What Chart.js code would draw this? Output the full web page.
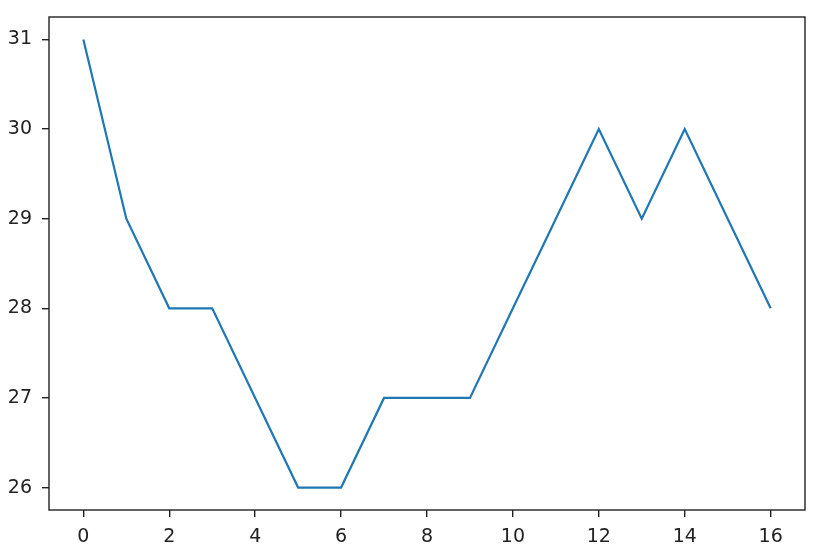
<!DOCTYPE html>
<html>
<head>
<meta charset="utf-8">
<script src="https://cdn.jsdelivr.net/npm/chart.js@4/dist/chart.umd.min.js"></script>
<style>
html, body { margin: 0; padding: 0; background: #fff; }
#wrap { width: 821px; height: 556px; }
</style>
</head>
<body>
<div id="wrap"><canvas id="canvas" width="821" height="556"></canvas></div>
<script>
var xValues = [0, 1, 2, 3, 4, 5, 6, 7, 8, 9, 10, 11, 12, 13, 14, 15, 16];
var yValues = [31, 29, 28, 28, 27, 26, 26, 27, 27, 27, 28, 29, 30, 29, 30, 29, 28];
var xTicks = [0, 2, 4, 6, 8, 10, 12, 14, 16];
var yTicks = [26, 27, 28, 29, 30, 31];

var points = xValues.map(function(x, i) {
	return {x: x, y: yValues[i]};
});

// full box round the plot area, like matplotlib spines
var frame = {
	id: 'frame',
	afterDraw: function(chart) {
		var a = chart.chartArea;
		var ctx = chart.ctx;
		ctx.save();
		ctx.strokeStyle = '#222';
		ctx.lineWidth = 1.4;
		ctx.strokeRect(a.left, a.top, a.right - a.left, a.bottom - a.top);
		ctx.restore();
	}
};

var tickFont = {family: 'DejaVu Sans', size: 19};

var config = {
	type: 'line',
	data: {
		datasets: [{
			data: points,
			borderColor: '#1f77b4',
			borderWidth: 2.2,
			pointRadius: 0,
			tension: 0,
			fill: false
		}]
	},
	options: {
		responsive: false,
		animation: false,
		layout: {padding: {left: 0, top: 17, right: 16, bottom: 0}},
		plugins: {legend: {display: false}, tooltip: {enabled: false}},
		scales: {
			x: {
				type: 'linear',
				min: -0.8,
				max: 16.8,
				afterBuildTicks: function(scale) {
					scale.ticks = xTicks.map(function(v) { return {value: v}; });
				},
				afterFit: function(scale) {
					scale.height = 46;
					scale.paddingLeft = 0;
					scale.paddingRight = 0;
				},
				grid: {drawOnChartArea: false, tickLength: 7, color: '#222', tickColor: '#222', lineWidth: 1.4},
				border: {display: false},
				ticks: {color: '#222', font: tickFont, padding: 9, maxRotation: 0}
			},
			y: {
				type: 'linear',
				min: 25.75,
				max: 31.25,
				afterBuildTicks: function(scale) {
					scale.ticks = yTicks.map(function(v) { return {value: v}; });
				},
				afterFit: function(scale) {
					scale.width = 49;
					scale.paddingTop = 0;
					scale.paddingBottom = 0;
				},
				grid: {drawOnChartArea: false, tickLength: 7, color: '#222', tickColor: '#222', lineWidth: 1.4},
				border: {display: false},
				ticks: {color: '#222', font: tickFont, padding: 10}
			}
		}
	},
	plugins: [frame]
};

new Chart(document.getElementById('canvas'), config);
</script>
</body>
</html>
